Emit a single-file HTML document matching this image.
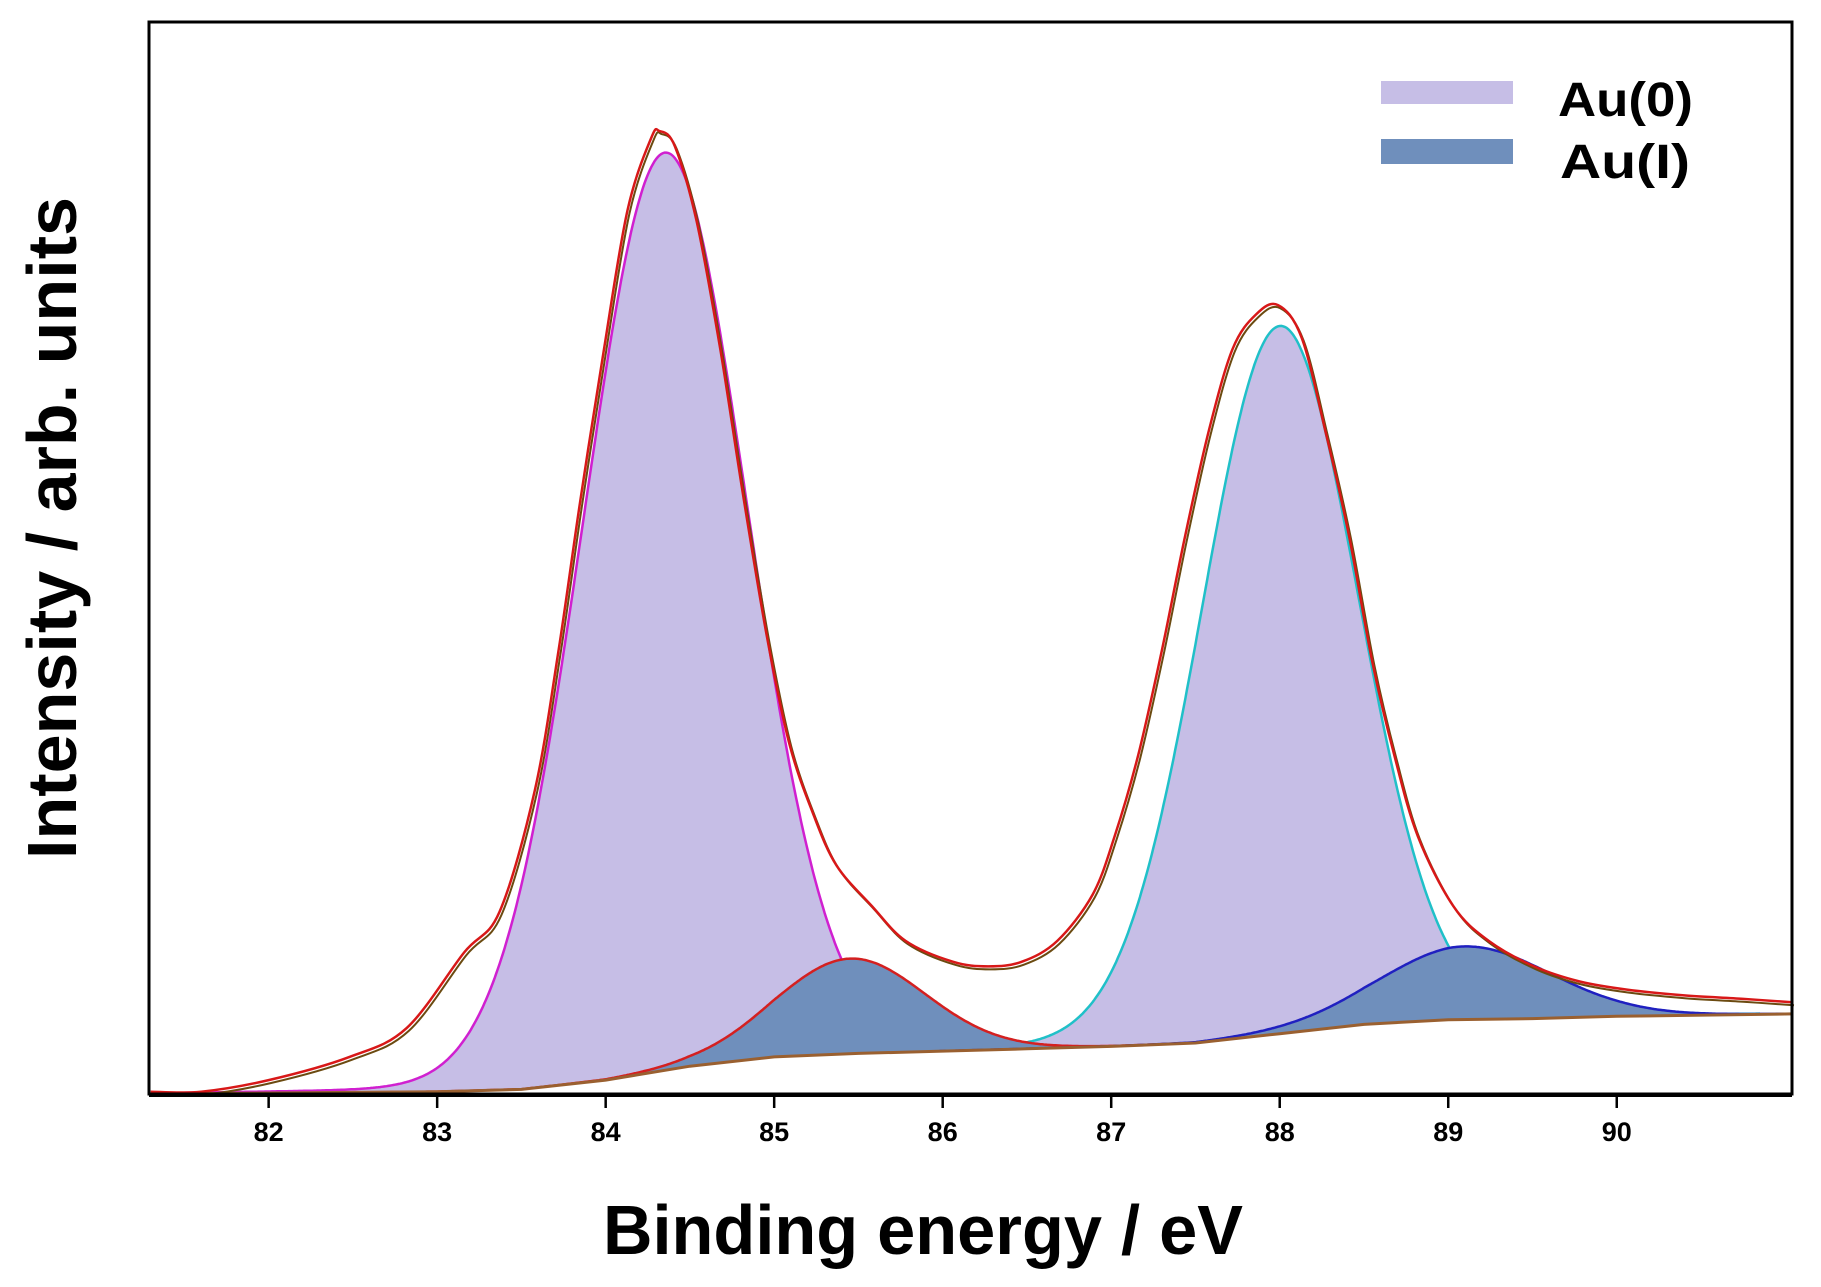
<!DOCTYPE html>
<html><head><meta charset="utf-8"><style>
html,body{margin:0;padding:0;background:#fff}
svg{display:block}
text{font-family:"Liberation Sans",sans-serif;font-weight:bold;fill:#000}
</style></head><body>
<svg id="chart" width="1821" height="1287" viewBox="0 0 1821 1287" xmlns="http://www.w3.org/2000/svg">
<g id="plot"></g>
<rect x="149" y="22" width="1643" height="1072" fill="none" stroke="#000" stroke-width="3"/>
<line x1="149" y1="1095" x2="1792" y2="1095" stroke="#000" stroke-width="4"/>
<g id="xticks"></g>
<text x="923" y="1254" font-size="70" text-anchor="middle" textLength="640" lengthAdjust="spacingAndGlyphs">Binding energy / eV</text>
<text x="0" y="0" font-size="70" text-anchor="middle" textLength="662" lengthAdjust="spacingAndGlyphs" transform="translate(76,528) rotate(-90)">Intensity / arb. units</text>
<g>
<rect x="1381" y="81" width="132" height="23" fill="#c6bee6"/>
<text x="1558" y="116" font-size="48" textLength="135" lengthAdjust="spacingAndGlyphs">Au(0)</text>
<rect x="1381" y="139" width="132" height="25" fill="#6f8fbc"/>
<text x="1560" y="178" font-size="48" textLength="130" lengthAdjust="spacingAndGlyphs">Au(I)</text>
</g>
</svg>
<script>
const xTicks=[82,83,84,85,86,87,88,89,90];
const bgX=[81.3,83.0,83.5,84.0,84.5,85.0,85.5,86.0,86.5,87.0,87.5,88.0,88.5,89.0,89.5,90.0,91.04];
const bgY=[0,2,4,12,24,32,35,37,39,41,44,52,60,64,65,67,69];
const dataX=[81.3,81.6,82.0,82.48,82.82,83.16,83.37,83.58,83.72,83.85,83.99,84.13,84.27,84.32,84.41,84.54,84.68,84.82,84.96,85.09,85.23,85.37,85.58,85.78,86.06,86.27,86.47,86.68,86.89,87.02,87.16,87.30,87.44,87.58,87.72,87.86,87.99,88.13,88.27,88.41,88.55,88.68,88.82,89.03,89.24,89.51,89.78,90.06,90.40,90.75,91.04];
const dataY=[2,2,12,32,57,122,157,262,382,512,642,762,824,830,817,752,642,512,392,302,242,197,162,132,114,110,114,132,172,222,292,382,482,572,642,672,680,652,572,482,372,292,222,162,132,110,97,90,85,82,79];
const peakNames=['au0-peak-1','au1-peak-1','au0-peak-2','au1-peak-2'];
const peakCenters=[84.35,85.45,88.0,89.1];
const peakHeights=[791,82,610,63];
const peakFwhm=[1.15,1.05,1.1,1.2];

const X0=81.29,X1=91.04,PX0=149,PX1=1792;
const sx=v=>PX0+(v-X0)*(PX1-PX0)/(X1-X0);
const sy=v=>1094-v*(1072/924);
const NS='http://www.w3.org/2000/svg';
const plot=document.getElementById('plot');
function bgAt(x){
  if(x<=bgX[0])return bgY[0];
  for(let i=1;i<bgX.length;i++){if(x<=bgX[i]){const t=(x-bgX[i-1])/(bgX[i]-bgX[i-1]);return bgY[i-1]+t*(bgY[i]-bgY[i-1]);}}
  return bgY[bgY.length-1];
}
function gl(x,c,h,w){const d=(x-c)/w;const g=Math.exp(-4*Math.LN2*d*d);const l=1/(1+4*d*d);return h*(0.97*g+0.03*l);}
function smooth(pts){
  let d='M'+pts[0][0].toFixed(1)+','+pts[0][1].toFixed(1);
  for(let i=0;i<pts.length-1;i++){
    const p0=pts[Math.max(0,i-1)],p1=pts[i],p2=pts[i+1],p3=pts[Math.min(pts.length-1,i+2)];
    const c1x=p1[0]+(p2[0]-p0[0])/6,c1y=p1[1]+(p2[1]-p0[1])/6;
    const c2x=p2[0]-(p3[0]-p1[0])/6,c2y=p2[1]-(p3[1]-p1[1])/6;
    d+='C'+c1x.toFixed(1)+','+c1y.toFixed(1)+' '+c2x.toFixed(1)+','+c2y.toFixed(1)+' '+p2[0].toFixed(1)+','+p2[1].toFixed(1);
  }
  return d;
}
const fills=['#c6bee6','#6f8fbc','#c6bee6','#6f8fbc'];
const strokes=['#d020d0','#d42020','#20c0c8','#2020c0'];
const order=[0,2,1,3];
order.forEach(i=>{
  const c=peakCenters[i],h=peakHeights[i],w=peakFwhm[i];
  const xs=[];for(let x=Math.max(X0,c-2.6*w);x<=Math.min(X1,c+2.6*w);x+=0.01)xs.push(x);
  let top='',bot='';
  xs.forEach((x,k)=>{top+=(k?'L':'M')+sx(x).toFixed(1)+','+sy(bgAt(x)+gl(x,c,h,w)).toFixed(1);});
  for(let k=xs.length-1;k>=0;k--){bot+='L'+sx(xs[k]).toFixed(1)+','+sy(bgAt(xs[k])).toFixed(1);}
  const f=document.createElementNS(NS,'path');
  f.setAttribute('d',top+bot+'Z');f.setAttribute('fill',fills[i]);
  
  
  plot.appendChild(f);
  const l=document.createElementNS(NS,'path');
  l.setAttribute('d',top);l.setAttribute('fill','none');l.setAttribute('stroke',strokes[i]);l.setAttribute('stroke-width','2.5');
  
  
  plot.appendChild(l);
});
let bd='';bgX.forEach((x,k)=>{bd+=(k?'L':'M')+sx(x).toFixed(1)+','+sy(bgY[k]).toFixed(1);});
const bl=document.createElementNS(NS,'path');
bl.setAttribute('d',bd);bl.setAttribute('fill','none');bl.setAttribute('stroke','#9a6030');bl.setAttribute('stroke-width','3');


plot.appendChild(bl);
const dd=smooth(dataX.map((x,k)=>[sx(x),sy(dataY[k])]));
const fl=document.createElementNS(NS,'path');
fl.setAttribute('d',dd);fl.setAttribute('fill','none');fl.setAttribute('stroke','#6b4a10');fl.setAttribute('stroke-width','2');fl.setAttribute('transform','translate(2,3)');


plot.appendChild(fl);
const dl=document.createElementNS(NS,'path');
dl.setAttribute('d',dd);dl.setAttribute('fill','none');dl.setAttribute('stroke','#d81818');dl.setAttribute('stroke-width','2.5');dl.setAttribute('stroke-linejoin','round');


plot.appendChild(dl);
const xt=document.getElementById('xticks');
xTicks.forEach(t=>{
  const ln=document.createElementNS(NS,'line');
  ln.setAttribute('x1',sx(t));ln.setAttribute('x2',sx(t));ln.setAttribute('y1',1095);ln.setAttribute('y2',1108);
  ln.setAttribute('stroke','#000');ln.setAttribute('stroke-width','2.5');
  
  
  xt.appendChild(ln);
  const tx=document.createElementNS(NS,'text');
  tx.setAttribute('x',sx(t));tx.setAttribute('y',1141);tx.setAttribute('font-size','27');tx.setAttribute('text-anchor','middle');
  tx.textContent=t;
  
  
  xt.appendChild(tx);
});
</script>
</body></html>
